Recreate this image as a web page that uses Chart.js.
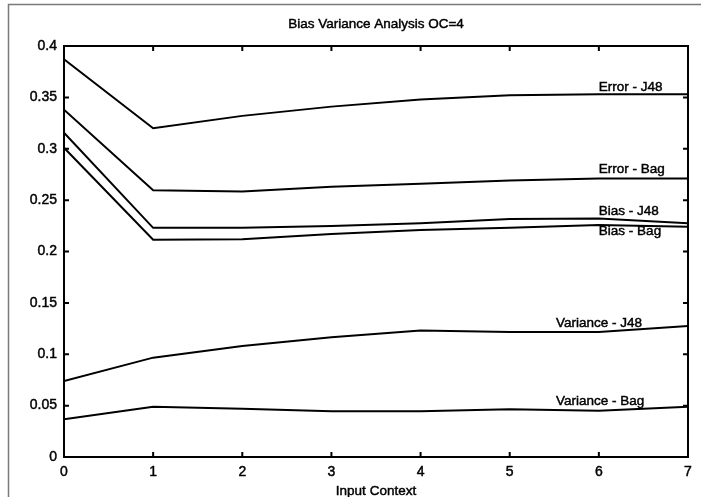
<!DOCTYPE html>
<html><head><meta charset="utf-8">
<script src="https://cdn.jsdelivr.net/npm/chart.js@4/dist/chart.umd.min.js"></script>
<style>html,body{margin:0;padding:0;background:#fff;}#wrap{width:701px;height:497px;}</style>
</head><body><div id="wrap"><canvas id="c" width="701" height="497"></canvas></div>
<script>
const chartTitle = 'Bias Variance Analysis OC=4';
const xTitle = 'Input Context';
const xValues = [0, 1, 2, 3, 4, 5, 6, 7];
const errorJ48 = [0.387, 0.320, 0.332, 0.341, 0.348, 0.352, 0.353, 0.353];
const errorBag = [0.338, 0.2595, 0.2585, 0.263, 0.266, 0.269, 0.271, 0.271];
const biasJ48 = [0.3156, 0.223, 0.223, 0.2248, 0.2274, 0.2316, 0.232, 0.2274];
const biasBag = [0.301, 0.2115, 0.212, 0.217, 0.221, 0.223, 0.2258, 0.224];
const varianceJ48 = [0.074, 0.0967, 0.108, 0.1165, 0.123, 0.1217, 0.1217, 0.1275];
const varianceBag = [0.0367, 0.049, 0.047, 0.0445, 0.0445, 0.0464, 0.045, 0.049];
const seriesNames = ['Error - J48', 'Error - Bag', 'Bias - J48', 'Bias - Bag', 'Variance - J48', 'Variance - Bag'];
const seriesValues = [errorJ48, errorBag, biasJ48, biasBag, varianceJ48, varianceBag];
const labelAtX = [6.0, 6.0, 6.0, 6.0, 5.52, 5.52];
const labelAtY = [0.360, 0.2803, 0.2394, 0.220, 0.1304, 0.0545];

const FONT = '"Liberation Sans", Arial, sans-serif';
const TEXT_STROKE = 0.45;

const decor = {
  id: 'decor',
  beforeDraw(chart) {
    const ctx = chart.ctx;
    ctx.save();
    ctx.fillStyle = '#fff';
    ctx.fillRect(0, 0, chart.width, chart.height);
    ctx.strokeStyle = '#7a7a7a';
    ctx.lineWidth = 1.5;
    ctx.strokeRect(8.5, 4.5, 720, 520);
    ctx.restore();
  },
  afterDraw(chart) {
    const ctx = chart.ctx;
    const a = chart.chartArea;
    const xs = chart.scales.x, ys = chart.scales.y;
    ctx.save();
    ctx.strokeStyle = '#000';
    ctx.lineWidth = 2;
    ctx.strokeRect(a.left, a.top, a.right - a.left, a.bottom - a.top);
    ctx.beginPath();
    xs.ticks.forEach(t => {
      const px = xs.getPixelForValue(t.value);
      ctx.moveTo(px, a.bottom); ctx.lineTo(px, a.bottom - 5);
      ctx.moveTo(px, a.top); ctx.lineTo(px, a.top + 5);
    });
    ys.ticks.forEach(t => {
      const py = ys.getPixelForValue(t.value);
      ctx.moveTo(a.left, py); ctx.lineTo(a.left + 5, py);
      ctx.moveTo(a.right, py); ctx.lineTo(a.right - 5, py);
    });
    ctx.stroke();
    ctx.fillStyle = '#000';
    ctx.strokeStyle = '#000';
    ctx.lineWidth = TEXT_STROKE;
    ctx.font = '13.5px ' + FONT;
    ctx.textAlign = 'center';
    ctx.textBaseline = 'middle';
    const put = (s, x, y) => { ctx.fillText(s, x, y); ctx.strokeText(s, x, y); };
    put(chartTitle, (a.left + a.right) / 2, 24);
    put(xTitle, (a.left + a.right) / 2, 491);
    ctx.textAlign = 'left';
    seriesNames.forEach((n, i) => {
      put(n, xs.getPixelForValue(labelAtX[i]), ys.getPixelForValue(labelAtY[i]));
    });
    ctx.restore();
  }
};

new Chart(document.getElementById('c'), {
  type: 'line',
  data: {
    datasets: seriesNames.map((n, i) => ({
      label: n,
      data: xValues.map((x, j) => ({x: x, y: seriesValues[i][j]})),
      borderColor: '#000',
      borderWidth: 2,
      pointRadius: 0,
      tension: 0,
      fill: false
    }))
  },
  options: {
    responsive: false,
    devicePixelRatio: 1,
    animation: false,
    layout: {padding: {top: 46, right: 13, left: 0, bottom: 0}},
    plugins: {legend: {display: false}, tooltip: {enabled: false}, title: {display: false}},
    scales: {
      x: {
        type: 'linear', min: 0, max: 7,
        grid: {display: false, drawTicks: false},
        border: {display: false},
        ticks: {stepSize: 1, padding: 7, color: '#000', textStrokeColor: '#000', textStrokeWidth: TEXT_STROKE,
          font: {family: FONT, size: 14}, maxRotation: 0},
        afterFit(s) { s.height = 40; }
      },
      y: {
        min: 0, max: 0.4,
        grid: {display: false, drawTicks: false},
        border: {display: false},
        ticks: {stepSize: 0.05, padding: 7, color: '#000', textStrokeColor: '#000', textStrokeWidth: TEXT_STROKE,
          font: {family: FONT, size: 14},
          callback: v => String(Math.round(v * 100) / 100)},
        afterFit(s) { s.width = 64; }
      }
    }
  },
  plugins: [decor]
});
</script>
</body></html>
